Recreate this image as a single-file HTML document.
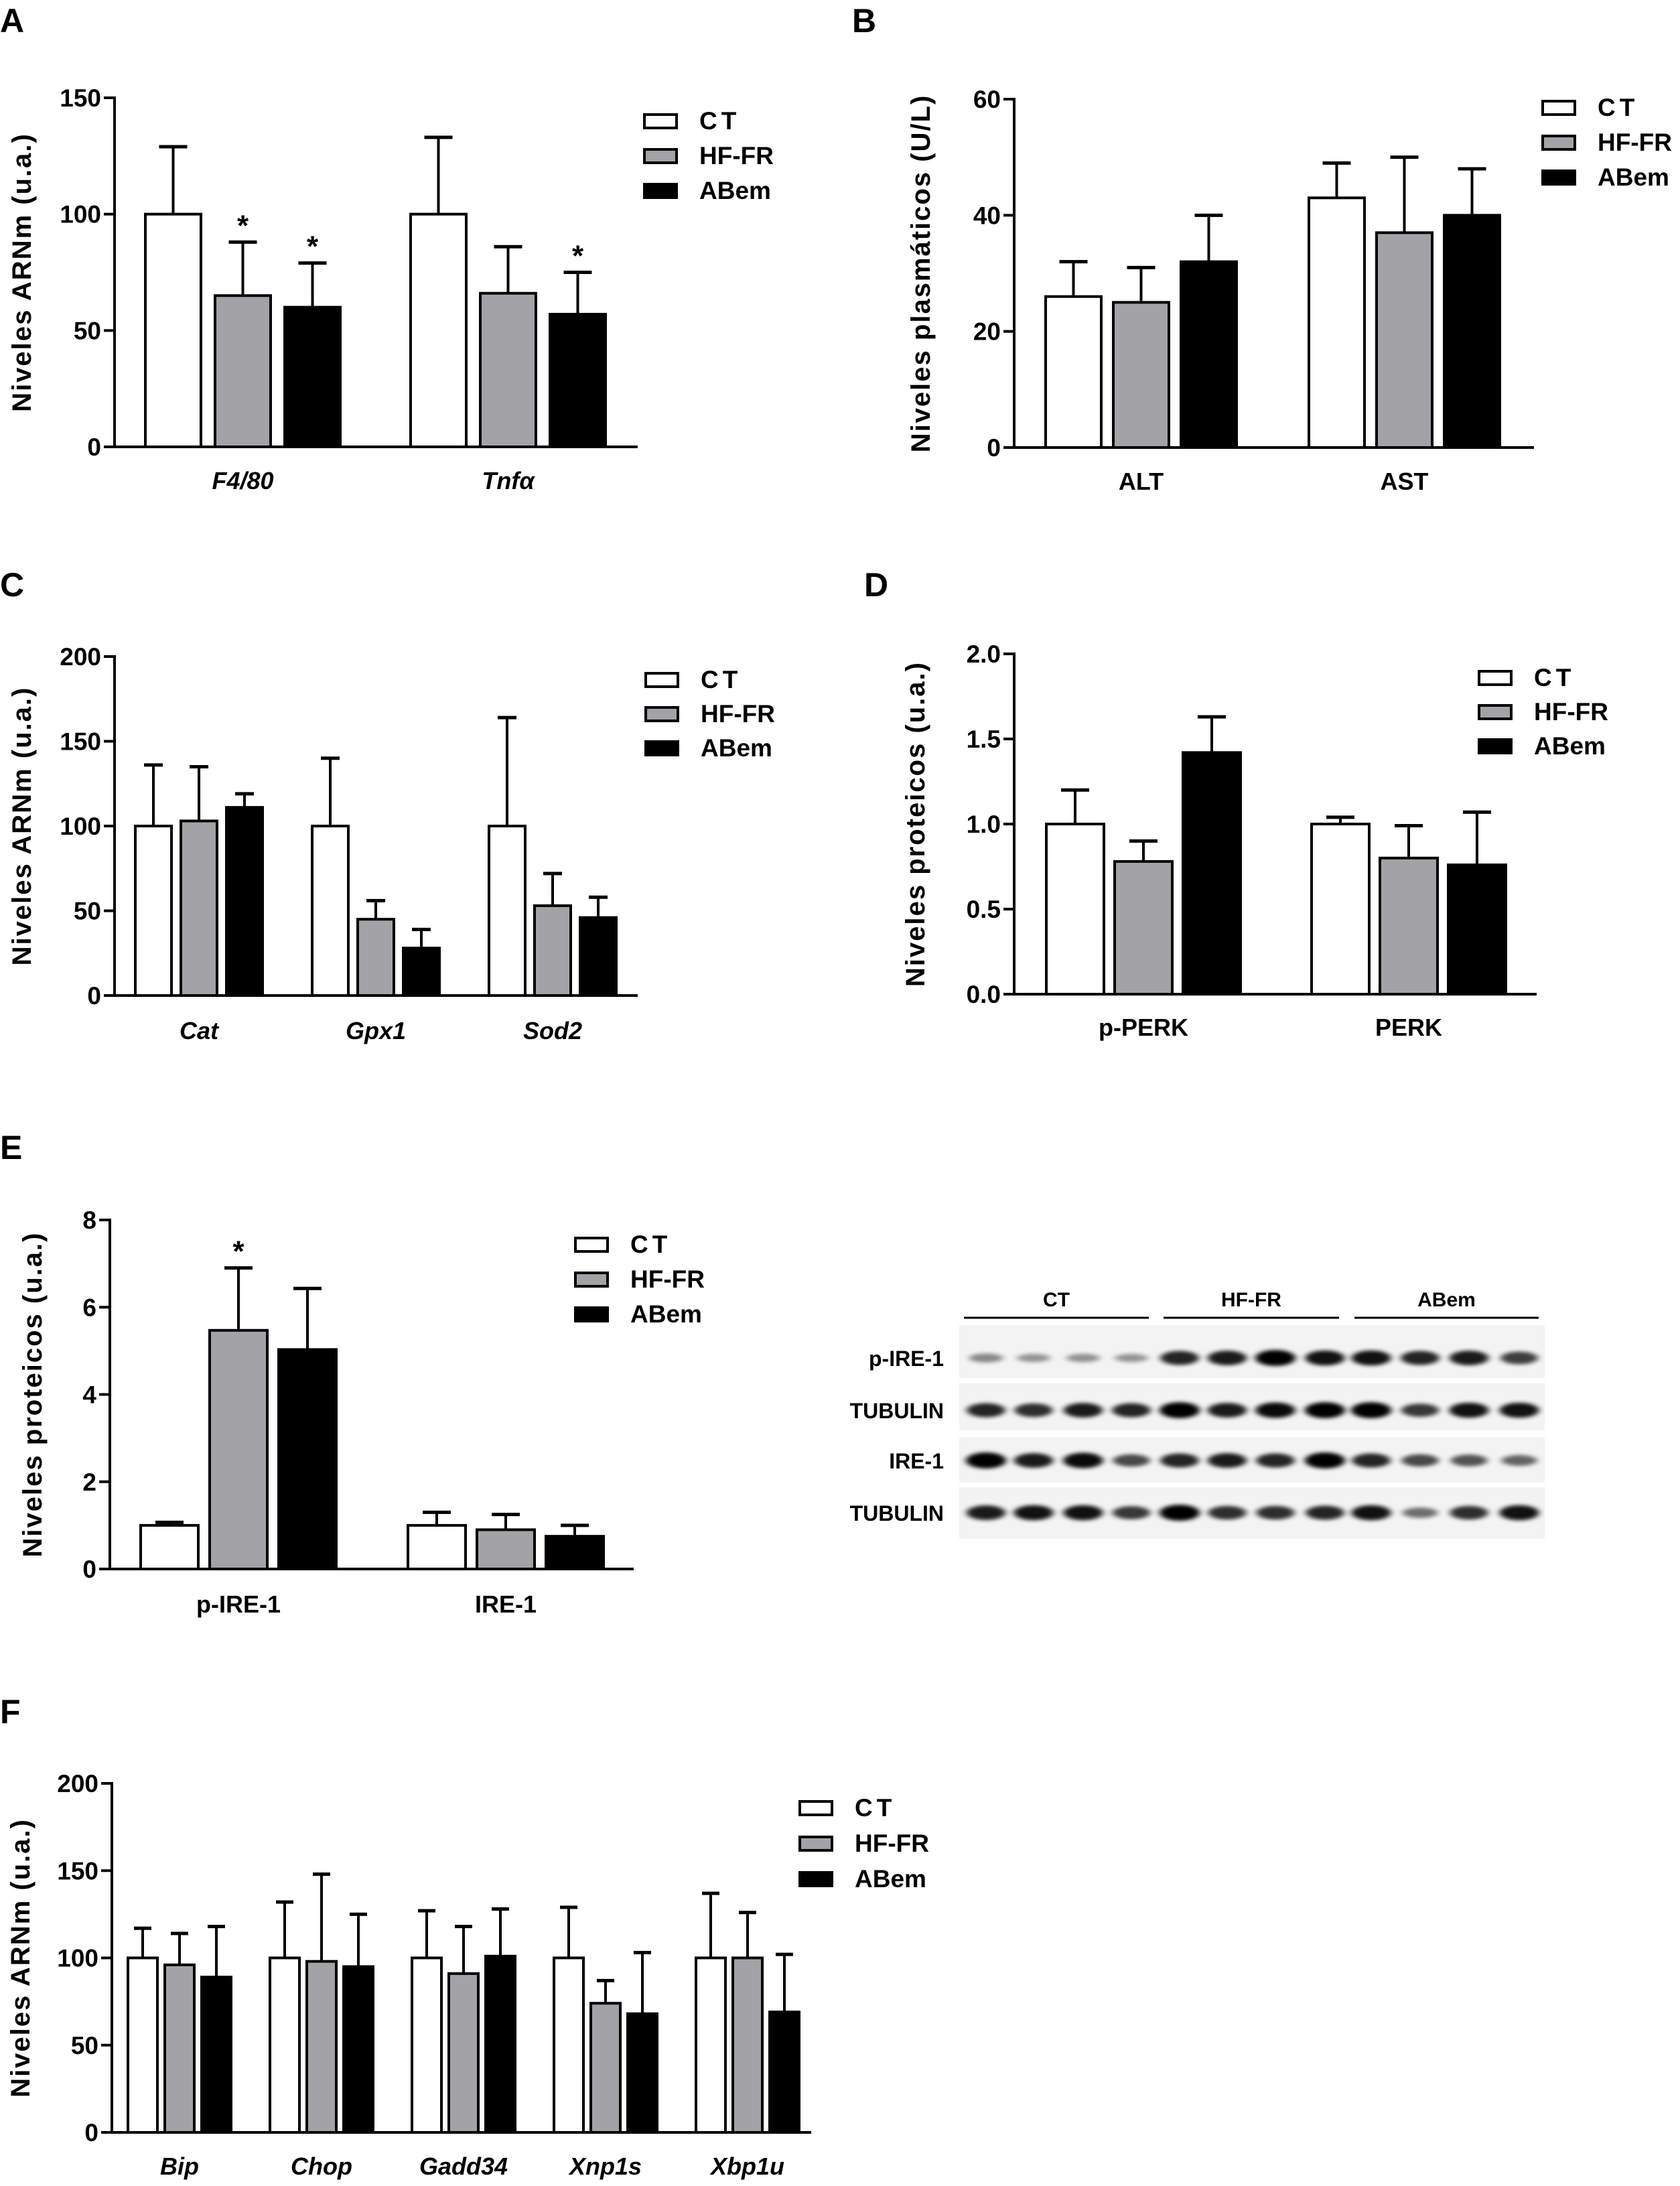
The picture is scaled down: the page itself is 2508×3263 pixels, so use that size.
<!DOCTYPE html>
<html><head><meta charset="utf-8"><style>
html,body{margin:0;padding:0;background:#fff;}
svg text{font-family:"Liberation Sans",Arial,sans-serif;font-weight:bold;fill:#000;}
</style></head>
<body>
<svg id="fig" xmlns="http://www.w3.org/2000/svg" width="2508" height="3258" viewBox="0 0 2508 3258">
<rect x="0" y="0" width="2508" height="3258" fill="#fff"/>
<text x="0" y="48" font-size="50">A</text>
<text x="1272" y="48" font-size="50">B</text>
<text x="0" y="890" font-size="50">C</text>
<text x="1290" y="890" font-size="50">D</text>
<text x="0" y="1730" font-size="50">E</text>
<text x="0" y="2572" font-size="50">F</text>
</svg>
<script>
// ---- Chart data (top level) ----
const seriesNames = ["CT","HF-FR","ABem"];
// A
const aCategories = ["F4/80","Tnfα"];
const aCT = [100,100], aHF = [65,66], aAB = [60,57];
const aCTerr = [29,33], aHFerr = [23,20], aABerr = [19,18];
const aTicks = [0,50,100,150];
// B
const bCategories = ["ALT","AST"];
const bCT = [26,43], bHF = [25,37], bAB = [32,40];
const bCTerr = [6,6], bHFerr = [6,13], bABerr = [8,8];
const bTicks = [0,20,40,60];
// C
const cCategories = ["Cat","Gpx1","Sod2"];
const cCT = [100,100,100], cHF = [103,45,53], cAB = [111,28,46];
const cCTerr = [36,40,64], cHFerr = [32,11,19], cABerr = [8,11,12];
const cTicks = [0,50,100,150,200];
// D
const dCategories = ["p-PERK","PERK"];
const dCT = [1.0,1.0], dHF = [0.78,0.80], dAB = [1.42,0.76];
const dCTerr = [0.2,0.04], dHFerr = [0.12,0.19], dABerr = [0.21,0.31];
const dTicks = [0,0.5,1.0,1.5,2.0];
const dTickLabels = ["0.0","0.5","1.0","1.5","2.0"];
// E
const eCategories = ["p-IRE-1","IRE-1"];
const eCT = [1.0,1.0], eHF = [5.47,0.9], eAB = [5.03,0.75];
const eCTerr = [0.07,0.3], eHFerr = [1.43,0.35], eABerr = [1.4,0.25];
const eTicks = [0,2,4,6,8];
// F
const fCategories = ["Bip","Chop","Gadd34","Xnp1s","Xbp1u"];
const fCT = [100,100,100,100,100], fHF = [96,98,91,74,100], fAB = [89,95,101,68,69];
const fCTerr = [17,32,27,29,37], fHFerr = [18,50,27,13,26], fABerr = [29,30,27,35,33];
const fTicks = [0,50,100,150,200];

const NS = "http://www.w3.org/2000/svg";
const svg = document.getElementById('fig');
const fills = ["#ffffff","#a3a3a7","#000000"];
function el(tag, attrs, parent){
  const e = document.createElementNS(NS, tag);
  for (const k in attrs) e.setAttribute(k, attrs[k]);
  (parent||svg).appendChild(e);
  return e;
}

function drawChart(id, L, cats, vals, errs, ticks, tickLabels, stars, italic){
  const g = el('g', {});
  
  
  const ymax = ticks[ticks.length-1];
  const y = v => L.y0 - (v/ymax)*(L.y0 - L.yTop);
  cats.forEach((c, ci) => {
    for (let s = 0; s < 3; s++) {
      const x = L.x0 + ci*L.gstep + s*L.step;
      const v = vals[s][ci], e = errs[s][ci];
      const cx = x + L.w/2;
      const ln = el('line', {x1:cx, x2:cx, y1:y(v), y2:y(v+e), stroke:'#000','stroke-width':4}, g);
      
      
      const cap = el('line', {x1:cx-L.cap/2, x2:cx+L.cap/2, y1:y(v+e), y2:y(v+e), stroke:'#000','stroke-width':5}, g);
      
      
      const r = el('rect', {x:x, y:y(v), width:L.w, height:L.y0 - y(v), fill:fills[s], stroke:'#000','stroke-width':4}, g);
      
      
      if (stars.some(p => p[0]===s && p[1]===ci)) {
        const st = el('text', {x:cx, y:y(v+e)-10, 'font-size':44, 'text-anchor':'middle'}, g);
        st.textContent = '*';
        
        
      }
    }
    const lx = L.x0 + ci*L.gstep + L.step + L.w/2;
    const t = el('text', {x:lx, y:L.labelY, 'font-size':36, 'text-anchor':'middle', 'font-style': italic ? 'italic':'normal'}, g);
    t.textContent = c;
    
    
  });
  const ya = el('line', {x1:L.ax, x2:L.ax, y1:L.yTop-2, y2:L.y0+2, stroke:'#000','stroke-width':4}, g);
  
  
  const xa = el('line', {x1:L.ax-16, x2:L.xEnd, y1:L.y0, y2:L.y0, stroke:'#000','stroke-width':4}, g);
  
  
  ticks.forEach((tv, i) => {
    const tk = el('line', {x1:L.ax-16, x2:L.ax, y1:y(tv), y2:y(tv), stroke:'#000','stroke-width':4}, g);
    
    
    const tl = el('text', {x:L.ax-20, y:y(tv)+13, 'font-size':37, 'text-anchor':'end'}, g);
    tl.textContent = tickLabels ? tickLabels[i] : String(tv);
    
    
  });
  const cy = (L.y0 + L.yTop)/2;
  const yt = el('text', {x:L.titleX, y:cy, 'font-size':40, 'letter-spacing':2, 'text-anchor':'middle', transform:'rotate(-90 '+L.titleX+' '+cy+')', dy:14}, g);
  yt.textContent = L.title;
  
  
  for (let s = 0; s < 3; s++) {
    const ly = L.legY + s*L.legStep;
    const lb = el('rect', {x:L.legX+2, y:ly+2, width:48, height:20, fill:fills[s], stroke:'#000','stroke-width':4}, g);
    
    
    const lt = el('text', {x:L.legX+84, y:ly+24, 'font-size':37, 'letter-spacing': s===0 ? 6 : 0}, g);
    lt.textContent = seriesNames[s];
    
    
  }
}

drawChart('panel-a', {ax:171,yTop:146,y0:667,xEnd:952,x0:217,w:83,step:104,gstep:396,cap:42,labelY:730,titleX:32,title:'Niveles ARNm (u.a.)',legX:960,legY:169,legStep:52},
  aCategories, [aCT,aHF,aAB], [aCTerr,aHFerr,aABerr], aTicks, null, [[1,0],[2,0],[2,1]], true);
drawChart('panel-b', {ax:1514,yTop:148,y0:668,xEnd:2290,x0:1561,w:83,step:101,gstep:393,cap:42,labelY:731,titleX:1374,title:'Niveles plasmáticos (U/L)',legX:2301,legY:149,legStep:52},
  bCategories, [bCT,bHF,bAB], [bCTerr,bHFerr,bABerr], bTicks, null, [], false);
drawChart('panel-c', {ax:171,yTop:980,y0:1486,xEnd:952,x0:202,w:54,step:68,gstep:264,cap:28,labelY:1551,titleX:32,title:'Niveles ARNm (u.a.)',legX:962,legY:1003,legStep:51},
  cCategories, [cCT,cHF,cAB], [cCTerr,cHFerr,cABerr], cTicks, null, [], true);
drawChart('panel-d', {ax:1514,yTop:976,y0:1484,xEnd:2294,x0:1562,w:86,step:102,gstep:396,cap:42,labelY:1546,titleX:1366,title:'Niveles proteicos (u.a.)',legX:2206,legY:1000,legStep:51},
  dCategories, [dCT,dHF,dAB], [dCTerr,dHFerr,dABerr], dTicks, dTickLabels, [], false);
drawChart('panel-e', {ax:164,yTop:1821,y0:2342,xEnd:946,x0:210,w:86,step:103,gstep:399,cap:42,labelY:2407,titleX:48,title:'Niveles proteicos (u.a.)',legX:857,legY:1846,legStep:52},
  eCategories, [eCT,eHF,eAB], [eCTerr,eHFerr,eABerr], eTicks, null, [[1,0]], false);
drawChart('panel-f', {ax:167,yTop:2662,y0:3183,xEnd:1211,x0:191,w:44,step:55,gstep:212,cap:26,labelY:3246,titleX:30,title:'Niveles ARNm (u.a.)',legX:1192,legY:2687,legStep:53},
  fCategories, [fCT,fHF,fAB], [fCTerr,fHFerr,fABerr], fTicks, null, [], true);

// ---- Western blot (image-like) ----
const blotGroups = ["CT","HF-FR","ABem"];
const blotRows = ["p-IRE-1","TUBULIN","IRE-1","TUBULIN"];
const blotRow1 = [0.25,0.18,0.2,0.18,0.8,0.85,1.0,0.9,0.9,0.8,0.85,0.65];
const blotRow2 = [0.8,0.75,0.85,0.8,1.0,0.85,0.95,1.0,1.0,0.7,0.9,0.9];
const blotRow3 = [1.0,0.85,0.95,0.6,0.8,0.85,0.8,1.0,0.8,0.6,0.55,0.45];
const blotRow4 = [0.85,0.9,0.9,0.7,1.0,0.75,0.75,0.8,0.9,0.4,0.75,0.9];
(function(){
  const g = el('g', {});
  
  
  const defs = el('defs', {}, g);
  const f = el('filter', {id:'blur', x:'-20%', y:'-50%', width:'140%', height:'200%'}, defs);
  el('feGaussianBlur', {stdDeviation:'5 3'}, f);
  const groupLines = [[1439,1715],[1737,1999],[2022,2297]];
  groupLines.forEach((gl, i) => {
    const l = el('line', {x1:gl[0], x2:gl[1], y1:1967, y2:1967, stroke:'#000','stroke-width':3}, g);
    
    
    const t = el('text', {x:(gl[0]+gl[1])/2, y:1950, 'font-size':30, 'text-anchor':'middle'}, g);
    t.textContent = blotGroups[i];
    
    
  });
  const lanes = [1472,1543,1617,1689,1761,1832,1904,1978,2047,2120,2193,2268];
  const panels = [[1978,2057,2027],[2065,2135,2105],[2145,2213,2180],[2220,2297,2258]];
  const rowsData = [blotRow1,blotRow2,blotRow3,blotRow4];
  panels.forEach((p, ri) => {
    const bg = el('rect', {x:1432, y:p[0], width:874, height:p[1]-p[0], fill:'#f3f3f3'}, g);
    
    
    const rl = el('text', {x:1409, y:p[2]+12, 'font-size':32, 'text-anchor':'end'}, g);
    rl.textContent = blotRows[ri];
    
    
    lanes.forEach((lx, li) => {
      const v = rowsData[ri][li];
      const b = el('ellipse', {cx:lx, cy:p[2], rx:24+v*6, ry:5+v*7, fill:'#000', opacity:(0.25+0.75*v).toFixed(2), filter:'url(#blur)'}, g);
      
      
    });
  });
})();
</script>
</body></html>
